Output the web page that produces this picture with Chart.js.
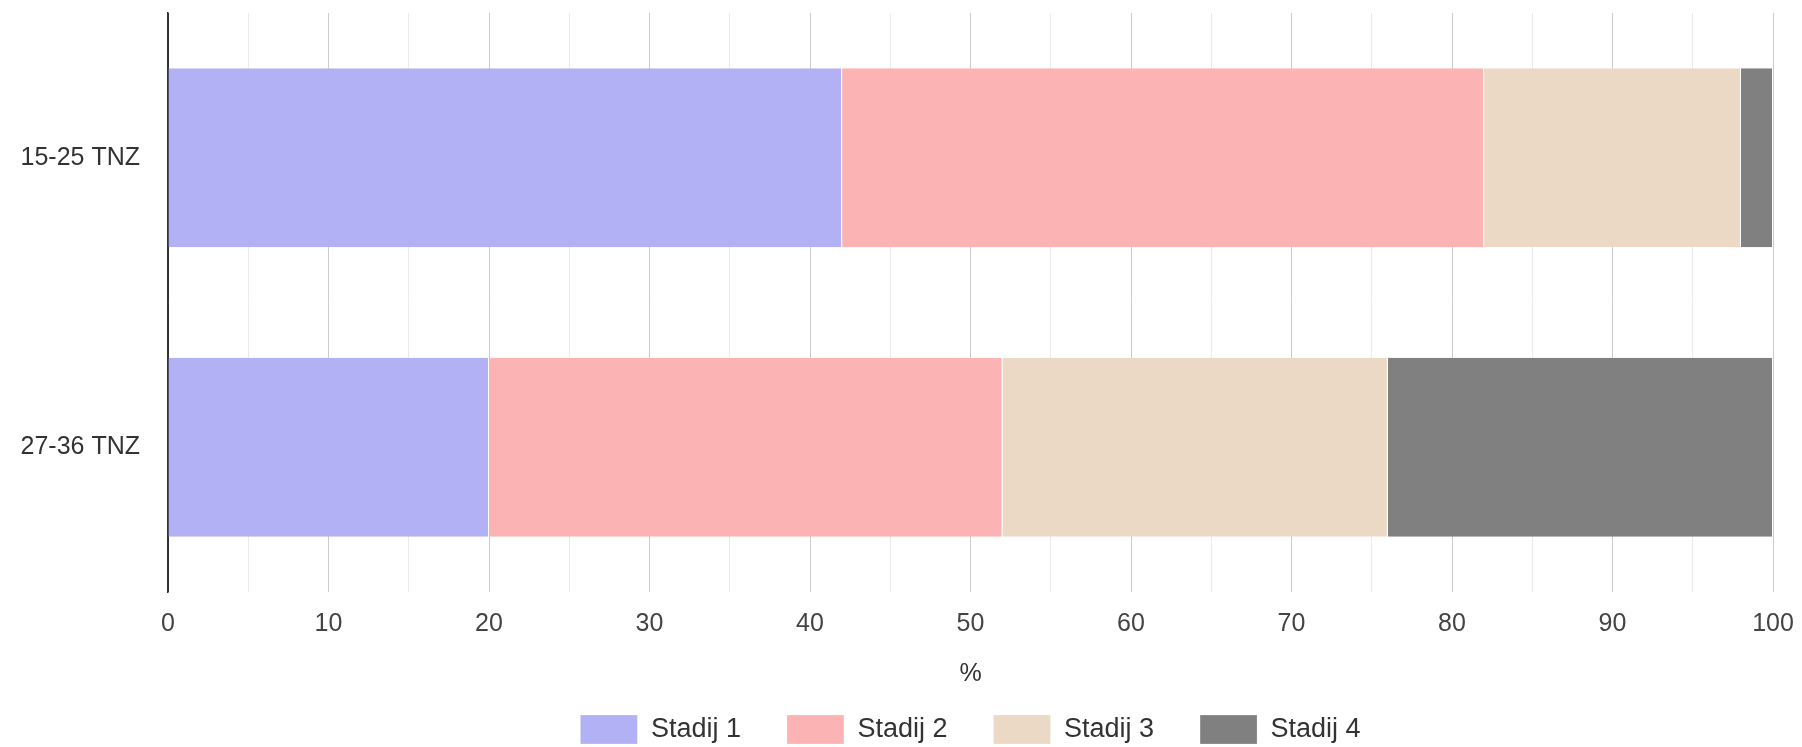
<!DOCTYPE html>
<html>
<head>
<meta charset="utf-8">
<script src="https://cdn.jsdelivr.net/npm/chart.js@4"></script>
<style>
  body { margin: 0; background: #fff; }
  #wrap { width: 1802px; height: 747px; }
</style>
</head>
<body>
<div id="wrap"><canvas id="myChart" width="1802" height="747"></canvas></div>
<script>
const categories = ['15-25 TNZ', '27-36 TNZ'];
const stadij1 = [42, 20];
const stadij2 = [40, 32];
const stadij3 = [16, 24];
const stadij4 = [2, 24];
const seriesNames = ['Stadij 1', 'Stadij 2', 'Stadij 3', 'Stadij 4'];
const colors = ['#b3b1f5', '#fbb3b3', '#ebd9c6', '#808080'];

const ctx = document.getElementById('myChart').getContext('2d');
Chart.defaults.font.family = '"Liberation Sans", Arial, sans-serif';
Chart.defaults.color = '#444';

const allSeries = [stadij1, stadij2, stadij3, stadij4];
const datasets = allSeries.map((values, i) => ({
  label: seriesNames[i],
  data: values,
  backgroundColor: colors[i],
  borderColor: '#fff',
  borderWidth: { top: 0, bottom: 0, left: 0, right: 1 },
  borderSkipped: 'start',
  barPercentage: 0.618,
  categoryPercentage: 1,
}));

// center the legend under the plot area instead of the whole canvas
const legendUnderPlot = {
  id: 'legendUnderPlot',
  afterLayout(chart) {
    if (chart.legend) {
      chart.legend.left = chart.chartArea.left;
      chart.legend.right = chart.chartArea.right;
    }
  },
};

const myChart = new Chart(ctx, {
  type: 'bar',
  data: { labels: categories, datasets: datasets },
  plugins: [legendUnderPlot],
  options: {
    indexAxis: 'y',
    responsive: false,
    animation: false,
    layout: { padding: { top: 13, right: 29, left: 0, bottom: 0 } },
    plugins: {
      tooltip: { enabled: false },
      legend: {
        position: 'bottom',
        maxHeight: 78,
        labels: {
          boxWidth: 57,
          boxHeight: 29,
          padding: 46,
          color: '#333',
          font: { size: 27 },
        },
      },
    },
    scales: {
      x: {
        stacked: true,
        min: 0,
        max: 100,
        afterFit: (scale) => {
          scale.paddingLeft = 0;
          scale.paddingRight = 0;
        },
        border: { display: false },
        grid: {
          drawTicks: false,
          color: (c) => {
            const v = c.tick ? c.tick.value : 0;
            if (v === 0) return '#333';
            return v % 10 === 0 ? '#cccccc' : '#ebebeb';
          },
        },
        ticks: {
          stepSize: 5,
          autoSkip: false,
          maxRotation: 0,
          padding: 17,
          color: '#444',
          font: { size: 25 },
          callback: (v) => (v % 10 === 0 ? v : ''),
        },
        title: {
          display: true,
          text: '%',
          color: '#333',
          font: { size: 25 },
          padding: { top: 3, bottom: -20 },
        },
      },
      y: {
        stacked: true,
        afterFit: (scale) => {
          scale.width = 168;
          scale.paddingTop = 0;
          scale.paddingBottom = 0;
        },
        grid: { display: false, drawTicks: false },
        border: { display: true, color: '#333', width: 1.5 },
        ticks: {
          padding: 28,
          color: '#333',
          font: { size: 25 },
        },
      },
    },
  },
});
</script>
</body>
</html>
